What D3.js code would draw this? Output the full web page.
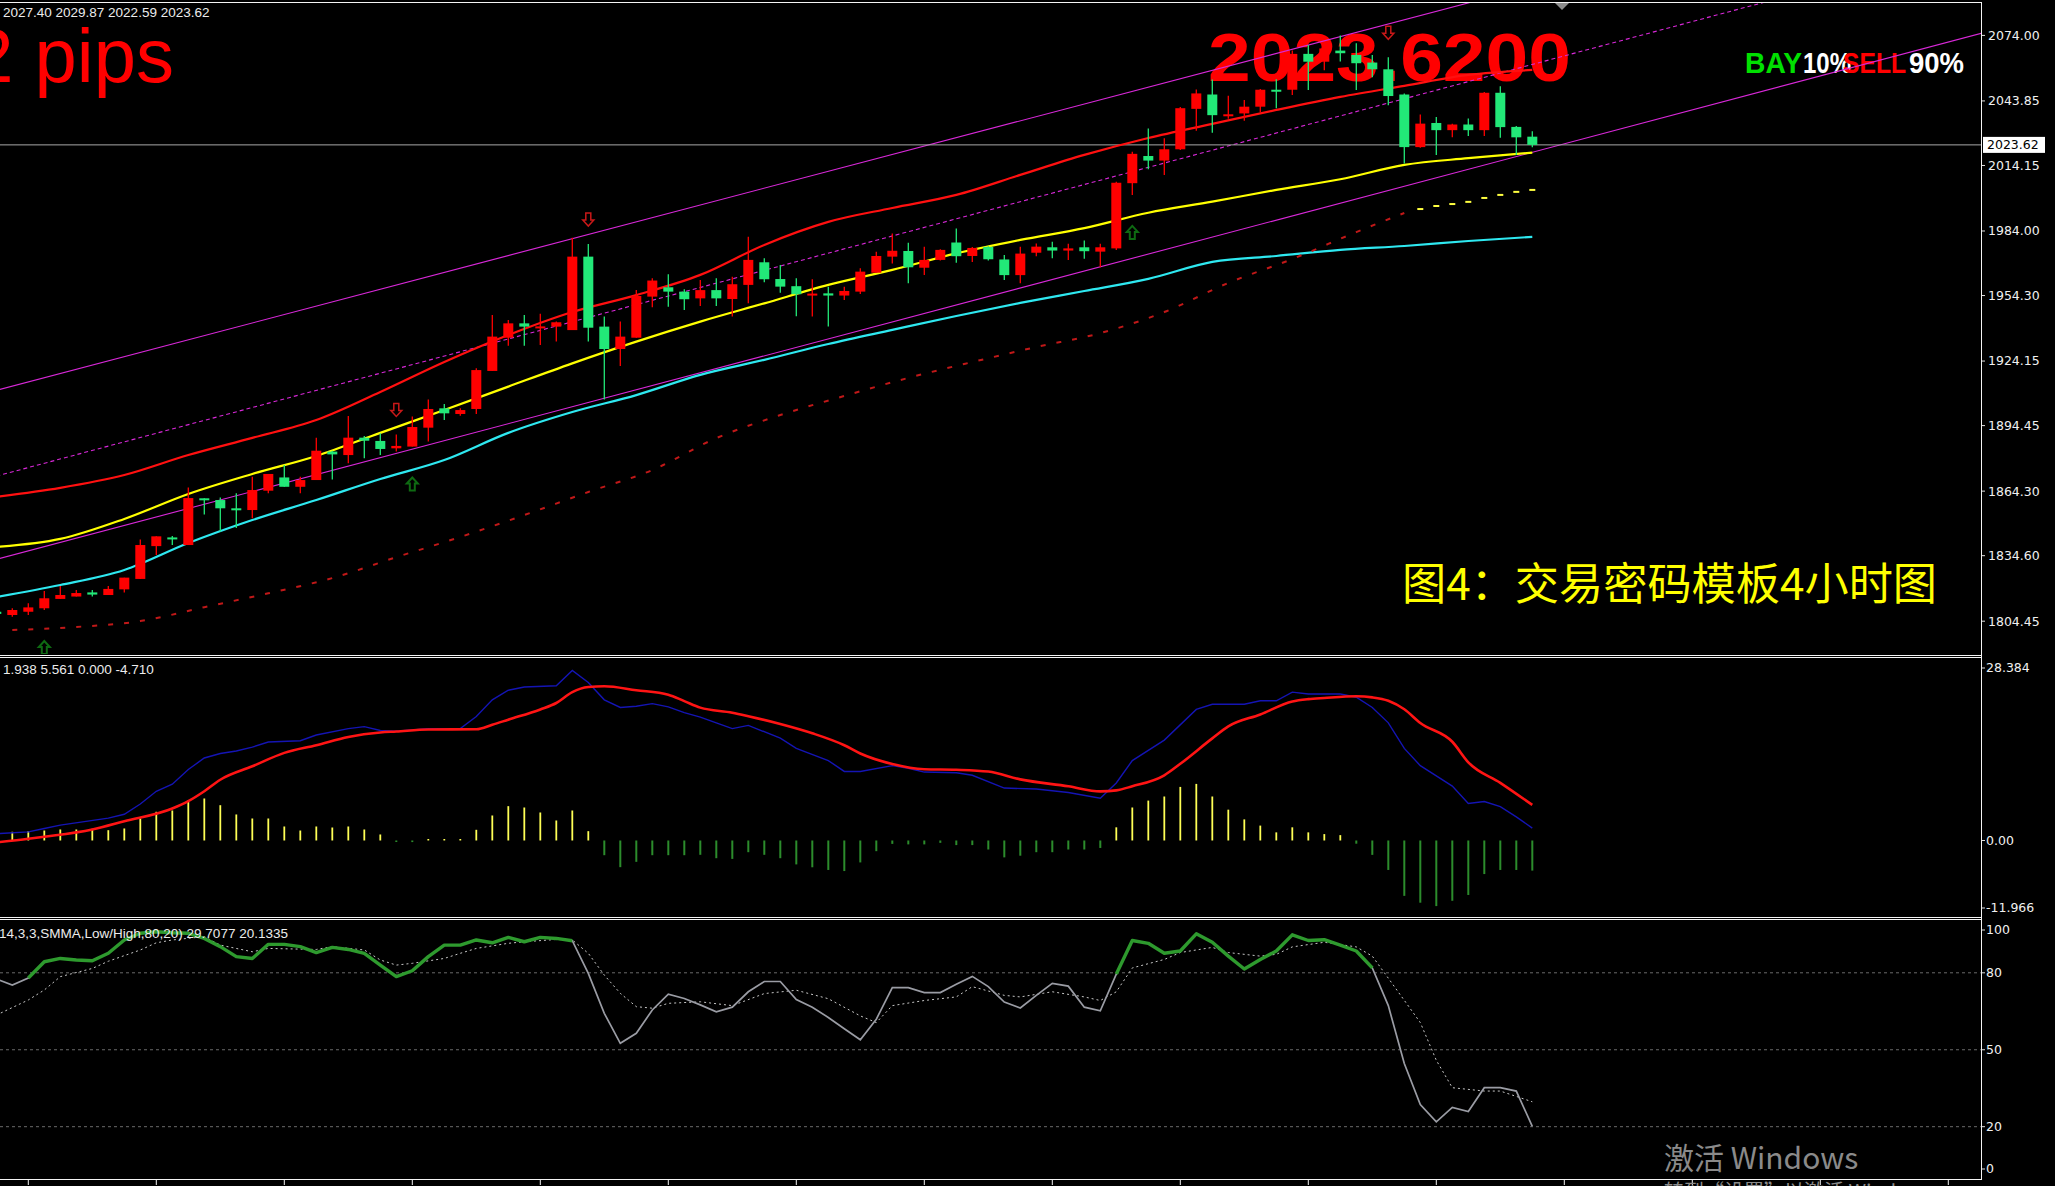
<!DOCTYPE html>
<html><head><meta charset="utf-8">
<script src="https://cdn.jsdelivr.net/npm/d3@7/dist/d3.min.js"></script>
<style>html,body{margin:0;padding:0;background:#000;overflow:hidden}</style>
</head><body>
<svg id="c" width="2055" height="1186"></svg>
<script>
// ---------------- DATA ----------------
// bar index -1 .. 95 (4H bars)
const barIndex = d3.range(-1, 96);
const open = [1808.8,
 1807.3,1808.8,1810.4,1814.7,1815.8,1817.7,1816.5,1819.1,1823.9,1839.0,
 1843.0,1839.5,1861.0,1860.2,1856.4,1855.6,1864.5,1870.6,1866.3,1869.4,
 1882.5,1880.9,1888.9,1887.4,1884.0,1884.8,1893.5,1902.4,1899.8,1902.1,
 1919.6,1934.9,1941.5,1939.8,1940.0,1938.4,1972.2,1940.0,1929.7,1934.9,
 1953.8,1958.1,1956.1,1953.0,1956.8,1952.7,1959.2,1969.6,1961.9,1958.6,
 1955.0,1955.3,1954.3,1956.1,1964.8,1972.2,1974.8,1967.1,1970.7,1978.7,
 1972.5,1976.7,1970.9,1963.7,1974.0,1976.5,1975.0,1976.5,1974.5,1976.0,
 2006.0,2018.5,2016.4,2021.6,2040.2,2046.8,2037.3,2038.1,2041.2,2049.0,
 2049.0,2065.5,2061.9,2067.0,2065.0,2061.5,2058.4,2046.8,2022.6,2033.7,
 2030.4,2033.0,2030.4,2047.6,2031.9,2027.40];
const high = [1809.3,
 1810.4,1812.7,1818.4,1820.7,1818.8,1818.8,1820.7,1824.5,1842.1,1843.5,
 1843.6,1866.0,1861.0,1861.4,1863.3,1870.9,1872.2,1876.3,1870.9,1888.9,
 1882.9,1898.9,1889.7,1890.9,1890.4,1898.6,1906.5,1904.4,1902.4,1920.8,
 1945.4,1943.0,1945.4,1945.9,1942.3,1980.9,1978.0,1944.6,1942.3,1956.8,
 1962.2,1964.1,1957.2,1961.5,1962.2,1963.0,1981.4,1971.5,1968.3,1962.2,
 1961.8,1958.4,1958.4,1966.8,1974.5,1982.9,1978.6,1976.8,1975.6,1985.2,
 1976.6,1977.0,1972.9,1976.8,1978.3,1979.1,1978.1,1979.6,1978.1,2006.7,
 2020.5,2031.2,2026.7,2041.0,2049.1,2053.7,2046.2,2044.3,2049.3,2053.8,
 2067.0,2069.6,2071.0,2074.0,2070.4,2065.0,2063.9,2047.3,2037.6,2036.5,
 2033.4,2035.8,2047.9,2050.6,2032.3,2029.87];
const low = [1807.3,
 1806.5,1807.3,1809.6,1814.7,1815.8,1815.8,1816.5,1817.7,1823.9,1834.9,
 1839.5,1839.5,1853.6,1845.7,1847.3,1851.8,1863.3,1866.3,1863.3,1869.4,
 1869.7,1877.1,1879.4,1880.9,1882.5,1884.8,1887.1,1897.0,1899.0,1899.8,
 1919.6,1931.2,1931.2,1931.5,1933.1,1938.4,1933.1,1906.5,1921.9,1934.9,
 1948.9,1949.1,1947.6,1949.5,1949.5,1944.6,1950.7,1960.4,1955.6,1944.8,
 1944.6,1940.0,1952.3,1955.0,1964.8,1969.0,1959.9,1963.7,1970.4,1969.4,
 1969.7,1970.4,1961.4,1959.9,1972.4,1971.5,1970.7,1971.2,1967.3,1975.3,
 2000.6,2012.4,2009.8,2021.3,2030.1,2029.2,2035.6,2034.7,2038.6,2040.5,
 2046.6,2048.9,2058.0,2062.0,2048.9,2054.8,2041.9,2015.1,2022.3,2019.0,
 2027.1,2027.7,2027.7,2026.9,2019.0,2022.59];
const close = [1807.8,
 1809.6,1810.8,1815.0,1816.5,1817.4,1816.7,1819.3,1824.5,1839.5,1843.5,
 1842.1,1861.1,1860.2,1856.4,1855.6,1864.8,1872.2,1866.3,1869.4,1882.9,
 1881.2,1888.9,1887.5,1883.7,1885.1,1893.8,1902.1,1900.1,1901.6,1920.0,
 1935.4,1941.5,1940.0,1940.1,1942.0,1972.2,1939.5,1929.7,1935.4,1954.1,
 1961.2,1956.1,1952.6,1956.8,1953.0,1959.5,1970.7,1961.8,1958.4,1954.9,
 1955.2,1954.3,1956.4,1965.3,1972.5,1974.9,1967.3,1970.7,1975.3,1972.4,
 1976.2,1971.0,1963.7,1973.6,1976.8,1975.0,1976.0,1974.7,1976.5,2006.2,
 2019.5,2016.4,2021.6,2040.5,2047.3,2037.3,2037.7,2041.2,2049.0,2048.3,
 2065.5,2061.9,2068.0,2065.8,2061.2,2058.4,2046.1,2022.6,2033.4,2030.4,
 2033.0,2030.4,2047.6,2031.8,2027.1,2023.62];

// moving averages (sampled every 4 bars)
const maIdx   = [-1,3,7,11,15,19,23,27,31,35,39,43,47,51,55,59,63,67,71,75,79,83,87,91,95];
const yellowMA = [1838.6,1842.3,1851.5,1863.0,1872.2,1880.5,1891.1,1901.6,1912.4,1923.1,1933.1,1942.3,1950.7,1959.2,1966.1,1973.7,1979.9,1985.3,1992.4,1997.5,2002.9,2007.8,2014.4,2017.5,2020.1];
const redMA    = [1861.7,1865.8,1871.7,1880.9,1888.8,1897.0,1909.9,1923.7,1936.1,1946.7,1954.5,1963.8,1977.6,1988.2,1994.6,2000.6,2009.8,2019.0,2026.8,2033.3,2039.7,2045.7,2050.8,2055.8,2058.1];
const cyanMA   = [1815.6,1821.1,1828.0,1840.4,1851.0,1860.2,1869.9,1878.6,1891.1,1900.7,1908.5,1917.8,1924.7,1932.0,1938.5,1944.9,1950.9,1956.4,1962.0,1969.8,1972.5,1975.3,1977.1,1979.4,1981.3];
// dashed lower band
const dashIdx = [0,4,8,12,16,20,24,28,32,36,40,44,48,52,56,60,64,68,72,76,80,84,87];
const dashRed = [1800.4,1801.8,1804.5,1810.9,1817.3,1824.3,1833.9,1843.2,1853.3,1863.9,1874.0,1888.7,1899.3,1908.1,1916.4,1923.7,1930.6,1937.0,1946.7,1960.1,1971.1,1983.5,1992.3];
const dashYIdx = [88,89,90,91,92,93,94,95];
const dashYellow = [1994.1,1995.5,1996.4,1997.4,1999.2,2000.6,2002.0,2002.9];
// channel lines: [startIndex, startPrice, endIndex, endPrice]
const chanUpper = [-1, 1910.7, 130, 2164.5];
const chanMid   = [-1, 1871.2, 130, 2129.7];
const chanLower = [-1, 1832.9, 130, 2088.5];
// signal arrows
const sellArrows = [24, 36, 86];
const buyArrows  = [2, 25, 70];
const lastPrice = 2023.62;
const priceTicks = [2074.00,2043.85,2014.15,1984.00,1954.30,1924.15,1894.45,1864.30,1834.60,1804.45];

// MACD
const histIdx = d3.range(0, 96);
const macdHist = [1.36,1.46,1.56,1.72,1.72,1.83,1.61,1.88,3.44,4.49,
 4.69,6.26,6.57,5.52,4.07,3.44,3.44,2.19,1.56,2.19,
 2.03,2.19,1.72,0.94,-0.15,-0.25,0.2,0.2,0.12,1.67,
 3.91,5.37,5.16,4.38,3.13,4.69,1.46,-2.30,-4.17,-3.34,
 -2.30,-2.30,-2.30,-2.24,-2.77,-2.88,-1.83,-2.24,-2.77,-3.74,
 -4.19,-4.61,-4.78,-3.43,-1.67,-0.53,-0.61,-0.61,-0.37,-0.72,
 -0.72,-1.41,-2.64,-2.38,-1.83,-1.83,-1.41,-1.41,-1.17,2.06,
 5.16,6.24,6.88,8.38,8.85,6.88,4.82,3.30,2.33,1.27,
 2.06,1.27,1.00,0.84,-0.5,-2.25,-4.61,-8.66,-9.73,-10.26,
 -9.43,-8.52,-5.25,-4.61,-4.61,-4.71];
const blueIdx = [-1,1,2,3,6,7,8,9,10,11,12,13,14,15,16,18,19,21,22,23,24,26,28,29,30,31,32,34,35,36,37,38,39,40,41,42,43,44,45,46,48,49,51,52,53,55,56,57,59,60,62,64,66,68,69,70,72,74,75,77,78,79,80,81,83,84,85,86,87,88,90,91,92,93,94,95];
const blueVal = [1.05,1.35,1.88,2.4,3.5,4.1,5.7,7.7,8.8,11.1,12.9,13.6,14.0,14.6,15.4,15.6,16.5,17.5,17.8,17.2,17.1,17.5,17.5,19.4,22.0,23.5,24.0,24.2,26.6,24.7,22.0,20.8,21.0,21.4,20.9,20.0,19.3,18.4,17.5,18.0,16.0,14.4,12.5,10.8,10.8,11.7,11.3,10.7,10.6,10.2,8.2,8.05,7.5,6.6,9.0,12.5,15.7,20.5,21.3,21.3,21.85,21.85,23.2,22.9,22.9,22.4,20.8,18.4,14.4,11.7,8.5,5.8,6.1,5.3,3.7,1.938];
const sigIdx = [-1,1,2,5,7,10,11,12,13,15,17,19,21,23,24,26,29,30,31,33,34,35,36,37,39,41,42,43,45,46,48,50,52,53,55,57,59,61,63,66,68,69,70,72,73,75,76,78,80,81,82,84,85,86,87,88,90,91,93,95];
const sigVal = [-0.3,0.26,0.58,1.72,3.0,5.0,6.15,7.7,9.5,11.6,13.7,14.9,16.2,16.9,17.05,17.36,17.4,18.1,18.9,20.5,21.5,23.2,24.0,24.13,23.5,22.8,21.8,20.78,19.99,19.44,18.22,16.77,14.9,13.6,11.96,11.15,11.06,10.78,9.56,8.48,7.68,7.84,8.48,10.2,12.0,15.97,17.84,19.71,21.74,22.11,22.29,22.55,22.38,21.85,20.52,18.38,15.44,12.23,9.02,5.561];
const macdTicks = [28.384, 0, -11.966];
const macdTickLabels = ["28.384", "0.00", "-11.966"];

// Stochastic
const stochK = [77.6,
 75.2,78.0,84.3,85.6,85.0,84.7,87.6,92.8,95.4,96.0,
 95.6,95.4,93.4,90.2,86.3,85.6,91.1,91.1,90.2,87.9,
 89.9,89.1,87.6,83.0,78.5,80.8,86.3,90.8,90.8,92.8,
 91.7,93.8,92.1,93.8,93.4,92.5,79.8,64.2,52.5,56.4,
 65.5,71.7,70.0,67.5,64.8,66.6,72.6,76.6,76.6,69.6,
 66.6,62.6,58.2,53.9,61.9,74.2,74.2,72.3,72.3,75.5,
 78.6,74.6,68.6,66.3,71.2,75.9,74.8,66.6,65.2,79.5,
 92.6,91.5,87.6,88.5,95.2,91.9,86.5,81.5,85.2,88.5,
 94.8,92.6,92.9,90.8,88.5,81.9,67.2,44.6,28.6,21.9,
 27.5,25.9,35.2,35.2,33.9,20.13];
const stochHotRanges = [[1, 35], [69, 85]];
const dIdx = [-1,1,2,3,5,6,8,9,10,12,13,15,16,19,20,22,23,24,25,27,28,29,31,32,34,35,36,37,38,39,40,41,43,45,47,49,51,53,54,55,57,59,60,62,63,65,67,68,69,70,72,73,75,76,78,79,80,82,84,85,86,88,89,90,92,93,95];
const stochD = [63.5,69.4,73.3,78.5,81.7,84.5,88.9,91.7,92.8,94.1,90.8,88.2,89.5,89.1,90.2,88.9,85.0,83.0,83.7,85.6,87.6,89.5,91.5,92.1,93.0,92.8,87.6,79.1,72.0,66.8,66.2,68.1,68.7,67.2,71.9,73.2,69.9,63.2,60.6,67.2,69.2,70.6,74.6,71.2,70.6,72.6,70.6,69.2,72.6,81.9,85.2,87.9,89.9,87.9,86.5,87.2,90.1,91.9,90.1,86.5,77.9,60.6,45.9,35.2,33.9,33.9,29.71];
const stochLevels = [80, 50, 20];
const stochTicks = [100, 80, 50, 20, 0];
const timeTickIdx = d3.range(1, 130, 8);

// ---------------- DRAW ----------------
const svg = d3.select('#c');
const AX = 1981;
const x  = d3.scaleLinear().domain([-1, 95]).range([-3.7, 1532.3]);
const y  = d3.scaleLinear().domain([1804.45, 2074.00]).range([621.2, 35.4]);
const yM = d3.scaleLinear().domain([-11.966, 28.384]).range([917, 659]);
const yS = d3.scaleLinear().domain([0, 100]).range([1178, 921.5]);
const zip = (a, b) => a.map((k, i) => [k, b[i]]);

svg.append('rect').attr('width', 2055).attr('height', 1186).attr('fill', '#000');
const defs = svg.append('defs');
[['cm', 0, 3, AX, 651], ['cd', 0, 658, AX, 259], ['cs', 0, 920, AX, 258]].forEach(c => {
  defs.append('clipPath').attr('id', c[0]).append('rect')
    .attr('x', c[1]).attr('y', c[2]).attr('width', c[3]).attr('height', c[4]);
});

const main = svg.append('g').attr('clip-path', 'url(#cm)');

// background texts
main.append('text').attr('x', 174).attr('y', 82).attr('text-anchor', 'end')
  .attr('font-family', 'Liberation Sans, Arial').attr('font-size', 76).attr('fill', '#ff0000').text('2 pips');
main.append('text').attr('x', 1208).attr('y', 81)
  .attr('font-family', 'Liberation Sans, Arial').attr('font-weight', 'bold').attr('font-size', 68)
  .attr('textLength', 363).attr('lengthAdjust', 'spacingAndGlyphs').attr('fill', '#ff0000').text('2023.6200');
const bs = [['BAY', 1745, 57, '#00e000'], ['10%', 1803, 48, '#ffffff'], ['SELL', 1843, 63, '#ff0000'], ['90%', 1909, 55, '#ffffff']];
bs.forEach(b => main.append('text').attr('x', b[1]).attr('y', 73)
  .attr('font-family', 'Liberation Sans, Arial').attr('font-weight', 'bold').attr('font-size', 30)
  .attr('textLength', b[2]).attr('lengthAdjust', 'spacingAndGlyphs').attr('fill', b[3]).text(b[0]));
main.append('text').attr('x', 1402).attr('y', 600)
  .attr('font-family', 'Noto Sans CJK SC').attr('font-size', 44)
  .attr('textLength', 535).attr('lengthAdjust', 'spacingAndGlyphs').attr('fill', '#ffff00').text('图4：交易密码模板4小时图');

// channel lines
[[chanUpper, null], [chanMid, '4,3'], [chanLower, null]].forEach(c => {
  const d = c[0];
  main.append('line').attr('x1', x(d[0])).attr('y1', y(d[1])).attr('x2', x(d[2])).attr('y2', y(d[3]))
    .attr('stroke', '#d828d8').attr('stroke-width', 1.1).attr('stroke-dasharray', c[1]);
});

// current price line
main.append('line').attr('x1', 0).attr('x2', AX).attr('y1', y(lastPrice)).attr('y2', y(lastPrice))
  .attr('stroke', '#a8a8a8').attr('stroke-width', 1);

// MAs
const lineP = d3.line().x(d => x(d[0])).y(d => y(d[1])).curve(d3.curveMonotoneX);
main.append('path').attr('d', lineP(zip(maIdx, cyanMA))).attr('fill', 'none').attr('stroke', '#2ee8f0').attr('stroke-width', 2.2);
main.append('path').attr('d', lineP(zip(maIdx, redMA))).attr('fill', 'none').attr('stroke', '#ff1010').attr('stroke-width', 2.2);
main.append('path').attr('d', lineP(zip(maIdx, yellowMA))).attr('fill', 'none').attr('stroke', '#ffff00').attr('stroke-width', 2.2);
main.append('path').attr('d', lineP(zip(dashIdx, dashRed))).attr('fill', 'none').attr('stroke', '#c01818')
  .attr('stroke-width', 2).attr('stroke-dasharray', '5,11');
main.selectAll('.yd').data(zip(dashYIdx, dashYellow)).enter().append('line')
  .attr('x1', d => x(d[0]) - 3).attr('x2', d => x(d[0]) + 3).attr('y1', d => y(d[1])).attr('y2', d => y(d[1]))
  .attr('stroke', '#ffff40').attr('stroke-width', 2);

// candles
const bars = barIndex.map((k, i) => ({k, o: open[i], h: high[i], l: low[i], c: close[i]}));
const col = d => d.c >= d.o ? '#ff0000' : '#22e878';
const cg = main.append('g');
cg.selectAll('.w').data(bars).enter().append('line')
  .attr('x1', d => x(d.k)).attr('x2', d => x(d.k)).attr('y1', d => y(d.h)).attr('y2', d => y(d.l))
  .attr('stroke', col).attr('stroke-width', 1.3);
cg.selectAll('.b').data(bars).enter().append('rect')
  .attr('x', d => x(d.k) - 5).attr('width', 10)
  .attr('y', d => y(Math.max(d.o, d.c)))
  .attr('height', d => Math.max(2, Math.abs(y(d.o) - y(d.c))))
  .attr('fill', col);

// arrows
const downPath = 'M-2.5,-7 L2.5,-7 L2.5,0 L5.5,0 L0,6 L-5.5,0 L-2.5,0 Z';
const upPath = 'M-2.5,7 L2.5,7 L2.5,0 L5.5,0 L0,-6 L-5.5,0 L-2.5,0 Z';
sellArrows.forEach(k => {
  const i = barIndex.indexOf(k);
  main.append('path').attr('d', downPath).attr('transform', `translate(${x(k)},${y(high[i]) - 24})`)
    .attr('fill', 'none').attr('stroke', '#c81818').attr('stroke-width', 1.5);
});
buyArrows.forEach(k => {
  const i = barIndex.indexOf(k);
  main.append('path').attr('d', upPath).attr('transform', `translate(${x(k)},${y(low[i]) + 37})`)
    .attr('fill', 'none').attr('stroke', '#0e6a12').attr('stroke-width', 2);
});

// chart shift marker
svg.append('path').attr('d', 'M1555,3 L1569,3 L1562,10 Z').attr('fill', '#8c8c8c');

// info text
const info = (t, xx, yy) => svg.append('text').attr('x', xx).attr('y', yy)
  .attr('font-family', 'Liberation Sans, Arial').attr('font-size', 13.5).attr('fill', '#ececec').text(t);
info('2027.40 2029.87 2022.59 2023.62', 3, 17);

// price axis
const axisFont = 'DejaVu Sans, Verdana';
priceTicks.forEach(v => {
  svg.append('line').attr('x1', AX).attr('x2', AX + 4).attr('y1', y(v)).attr('y2', y(v)).attr('stroke', '#e0e0e0');
  svg.append('text').attr('x', 1988).attr('y', y(v)).attr('dy', '0.35em')
    .attr('font-family', axisFont).attr('font-size', 12.5).attr('fill', '#f0f0f0').text(v.toFixed(2));
});
svg.append('rect').attr('x', 1983).attr('y', y(lastPrice) - 8).attr('width', 62).attr('height', 16).attr('fill', '#ffffff');
svg.append('text').attr('x', 1987).attr('y', y(lastPrice)).attr('dy', '0.35em')
  .attr('font-family', axisFont).attr('font-size', 12.5).attr('fill', '#000').text(lastPrice.toFixed(2));

// ---- MACD panel ----
const md = svg.append('g').attr('clip-path', 'url(#cd)');
md.selectAll('.h').data(zip(histIdx, macdHist)).enter().append('line')
  .attr('x1', d => x(d[0])).attr('x2', d => x(d[0]))
  .attr('y1', yM(0)).attr('y2', d => (Math.abs(yM(d[1]) - yM(0)) < 1.5 ? yM(0) + (d[1] >= 0 ? -1.5 : 1.5) : yM(d[1])))
  .attr('stroke', d => d[1] >= 0 ? '#ffff55' : '#2c8c2c').attr('stroke-width', d => d[1] >= 0 ? 1.8 : 2);
const lineM = d3.line().x(d => x(d[0])).y(d => yM(d[1]));
md.append('path').attr('d', lineM(zip(blueIdx, blueVal))).attr('fill', 'none').attr('stroke', '#1414b4').attr('stroke-width', 1.4);
md.append('path').attr('d', lineM.curve(d3.curveMonotoneX)(zip(sigIdx, sigVal))).attr('fill', 'none').attr('stroke', '#ff1414').attr('stroke-width', 2.6);
info('1.938 5.561 0.000 -4.710', 3, 674);
macdTicks.forEach((v, i) => {
  const yy = Math.min(Math.max(yM(v), 668), 908);
  svg.append('line').attr('x1', AX).attr('x2', AX + 4).attr('y1', yy).attr('y2', yy).attr('stroke', '#e0e0e0');
  svg.append('text').attr('x', 1986).attr('y', yy).attr('dy', '0.35em')
    .attr('font-family', axisFont).attr('font-size', 12.5).attr('fill', '#f0f0f0').text(macdTickLabels[i]);
});

// ---- Stochastic panel ----
const st = svg.append('g').attr('clip-path', 'url(#cs)');
stochLevels.forEach(v => st.append('line').attr('x1', 0).attr('x2', AX).attr('y1', yS(v)).attr('y2', yS(v))
  .attr('stroke', '#6a6a6a').attr('stroke-width', 1).attr('stroke-dasharray', '3,3'));
const lineS = d3.line().x(d => x(d[0])).y(d => yS(d[1]));
st.append('path').attr('d', lineS(zip(dIdx, stochD))).attr('fill', 'none').attr('stroke', '#c8c8c8')
  .attr('stroke-width', 1).attr('stroke-dasharray', '2,3');
const kPts = zip(barIndex, stochK);
st.append('path').attr('d', lineS(kPts)).attr('fill', 'none').attr('stroke', '#9a9ca4').attr('stroke-width', 1.7);
stochHotRanges.forEach(r => {
  st.append('path').attr('d', lineS(kPts.filter(p => p[0] >= r[0] && p[0] <= r[1])))
    .attr('fill', 'none').attr('stroke', '#2e9a2e').attr('stroke-width', 3.4).attr('stroke-linejoin', 'round');
});
info('14,3,3,SMMA,Low/High,80,20) 29.7077 20.1335', -1, 938);
stochTicks.forEach(v => {
  const yy = Math.min(Math.max(yS(v), 930), 1169);
  svg.append('line').attr('x1', AX).attr('x2', AX + 4).attr('y1', yy).attr('y2', yy).attr('stroke', '#e0e0e0');
  svg.append('text').attr('x', 1986).attr('y', yy).attr('dy', '0.35em')
    .attr('font-family', axisFont).attr('font-size', 12.5).attr('fill', '#f0f0f0').text(v);
});

// ---- frames ----
const hl = (yy) => svg.append('line').attr('x1', 0).attr('x2', AX).attr('y1', yy).attr('y2', yy).attr('stroke', '#f4f4f4').attr('stroke-width', 1);
[2.5, 655.5, 657.5, 917.5, 919.5, 1179.5].forEach(hl);
svg.append('line').attr('x1', AX + 0.5).attr('x2', AX + 0.5).attr('y1', 2).attr('y2', 1180).attr('stroke', '#f4f4f4');
timeTickIdx.forEach(k => {
  if (x(k) < AX) svg.append('line').attr('x1', x(k)).attr('x2', x(k)).attr('y1', 1179).attr('y2', 1185).attr('stroke', '#f4f4f4');
});

// watermark
svg.append('text').attr('x', 1664).attr('y', 1169).attr('font-family', 'Noto Sans CJK SC').attr('font-size', 30)
  .attr('fill', '#8a8a8a').text('激活 Windows');
svg.append('text').attr('x', 1664).attr('y', 1199).attr('font-family', 'Noto Sans CJK SC').attr('font-size', 20)
  .attr('fill', '#8a8a8a').text('转到“设置”以激活 Windows。');
</script>
</body></html>
